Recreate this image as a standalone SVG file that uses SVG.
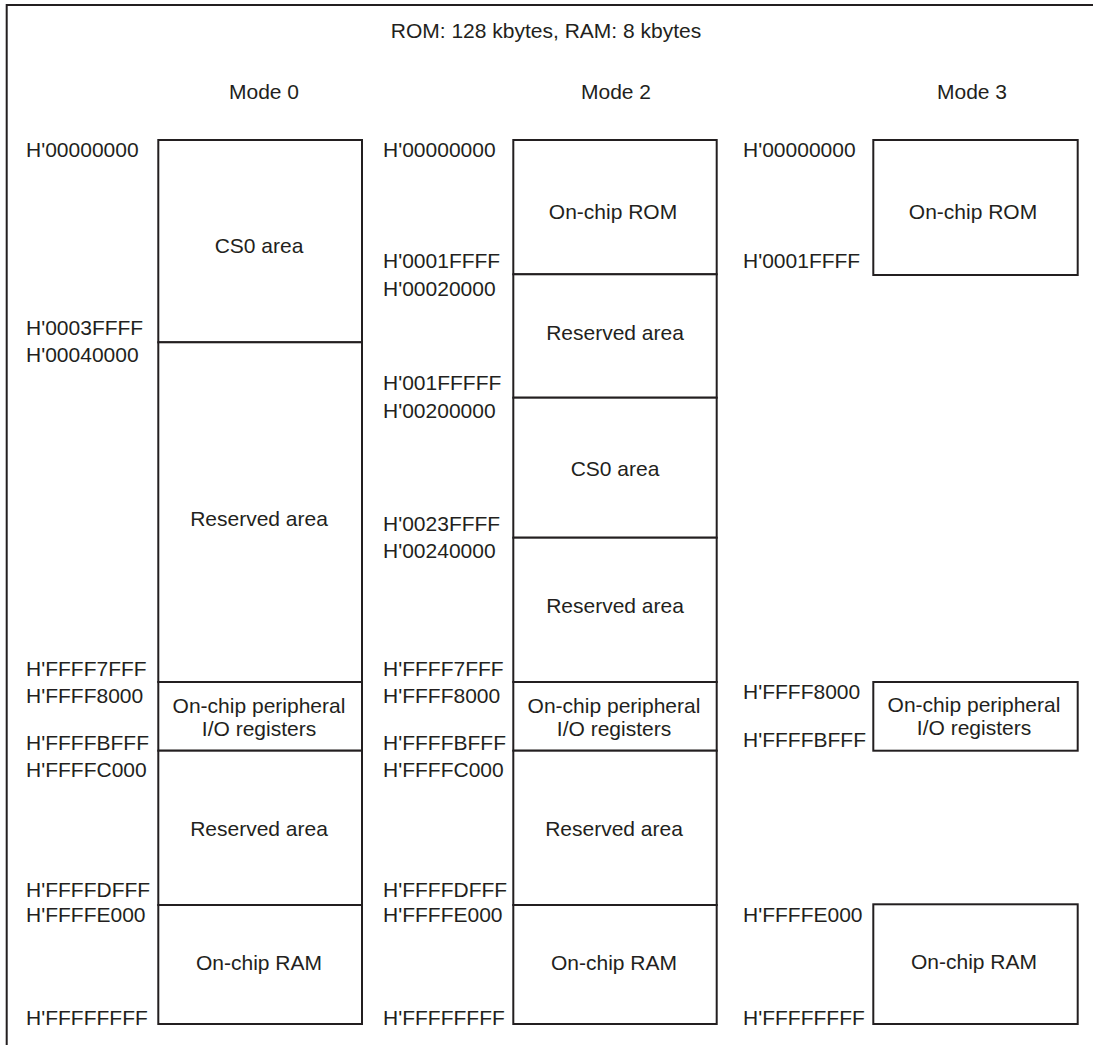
<svg xmlns="http://www.w3.org/2000/svg" width="1093" height="1045" viewBox="0 0 1093 1045">
<style>
  text { font-family: "Liberation Sans", Arial, sans-serif; font-size: 21px; fill: #231f20; }
  .c { text-anchor: middle; }
  .box { fill: #ffffff; stroke: #231f20; stroke-width: 2; }
  .frame { fill: none; stroke: #231f20; stroke-width: 2; }
</style>
<rect x="0" y="0" width="1093" height="1045" fill="#ffffff"/>
<path class="frame" d="M6.7,1045 V5 H1093"/>

<text class="c" x="546" y="38">ROM: 128 kbytes, RAM: 8 kbytes</text>
<text class="c" x="264" y="99">Mode 0</text>
<text class="c" x="616" y="99">Mode 2</text>
<text class="c" x="972" y="99">Mode 3</text>

<!-- Mode 0 -->
<g id="m0-cs0"><rect class="box" x="158.3" y="140" width="203.7" height="202.3"/><text class="c" x="259" y="253">CS0 area</text></g>
<g id="m0-res1"><rect class="box" x="158.3" y="342.3" width="203.7" height="339.7"/><text class="c" x="259" y="526">Reserved area</text></g>
<g id="m0-io"><rect class="box" x="158.3" y="682" width="203.7" height="68.7"/><text class="c" x="259" y="713">On-chip peripheral</text><text class="c" x="259" y="736">I/O registers</text></g>
<g id="m0-res2"><rect class="box" x="158.3" y="750.7" width="203.7" height="154.3"/><text class="c" x="259" y="836">Reserved area</text></g>
<g id="m0-ram"><rect class="box" x="158.3" y="905" width="203.7" height="119"/><text class="c" x="259" y="970">On-chip RAM</text></g>
<g id="m0-addr">
<text x="26" y="157">H'00000000</text>
<text x="26" y="335">H'0003FFFF</text>
<text x="26" y="362">H'00040000</text>
<text x="26" y="676">H'FFFF7FFF</text>
<text x="26" y="703">H'FFFF8000</text>
<text x="26" y="750">H'FFFFBFFF</text>
<text x="26" y="777">H'FFFFC000</text>
<text x="26" y="897">H'FFFFDFFF</text>
<text x="26" y="922">H'FFFFE000</text>
<text x="26" y="1025">H'FFFFFFFF</text>
</g>

<!-- Mode 2 -->
<g id="m2-rom"><rect class="box" x="513.3" y="140" width="203.4" height="134.3"/><text class="c" x="613" y="219">On-chip ROM</text></g>
<g id="m2-res1"><rect class="box" x="513.3" y="274.3" width="203.4" height="123.4"/><text class="c" x="615" y="340">Reserved area</text></g>
<g id="m2-cs0"><rect class="box" x="513.3" y="397.7" width="203.4" height="140"/><text class="c" x="615" y="476">CS0 area</text></g>
<g id="m2-res2"><rect class="box" x="513.3" y="537.7" width="203.4" height="144.3"/><text class="c" x="615" y="613">Reserved area</text></g>
<g id="m2-io"><rect class="box" x="513.3" y="682" width="203.4" height="68.7"/><text class="c" x="614" y="713">On-chip peripheral</text><text class="c" x="614" y="736">I/O registers</text></g>
<g id="m2-res3"><rect class="box" x="513.3" y="750.7" width="203.4" height="154.3"/><text class="c" x="614" y="836">Reserved area</text></g>
<g id="m2-ram"><rect class="box" x="513.3" y="905" width="203.4" height="119"/><text class="c" x="614" y="970">On-chip RAM</text></g>
<g id="m2-addr">
<text x="383" y="157">H'00000000</text>
<text x="383" y="268">H'0001FFFF</text>
<text x="383" y="296">H'00020000</text>
<text x="383" y="390">H'001FFFFF</text>
<text x="383" y="418">H'00200000</text>
<text x="383" y="531">H'0023FFFF</text>
<text x="383" y="558">H'00240000</text>
<text x="383" y="676">H'FFFF7FFF</text>
<text x="383" y="703">H'FFFF8000</text>
<text x="383" y="750">H'FFFFBFFF</text>
<text x="383" y="777">H'FFFFC000</text>
<text x="383" y="897">H'FFFFDFFF</text>
<text x="383" y="922">H'FFFFE000</text>
<text x="383" y="1025">H'FFFFFFFF</text>
</g>

<!-- Mode 3 -->
<g id="m3-rom"><rect class="box" x="873.3" y="140" width="204.4" height="135"/><text class="c" x="973" y="219">On-chip ROM</text></g>
<g id="m3-io"><rect class="box" x="873.3" y="682" width="204.4" height="68.7"/><text class="c" x="974" y="712">On-chip peripheral</text><text class="c" x="974" y="735">I/O registers</text></g>
<g id="m3-ram"><rect class="box" x="873.3" y="904.3" width="204.4" height="119.7"/><text class="c" x="974" y="969">On-chip RAM</text></g>
<g id="m3-addr">
<text x="743" y="157">H'00000000</text>
<text x="743" y="268">H'0001FFFF</text>
<text x="743" y="699">H'FFFF8000</text>
<text x="743" y="747">H'FFFFBFFF</text>
<text x="743" y="922">H'FFFFE000</text>
<text x="743" y="1025">H'FFFFFFFF</text>
</g>

<g id="connectors"></g>
</svg>
